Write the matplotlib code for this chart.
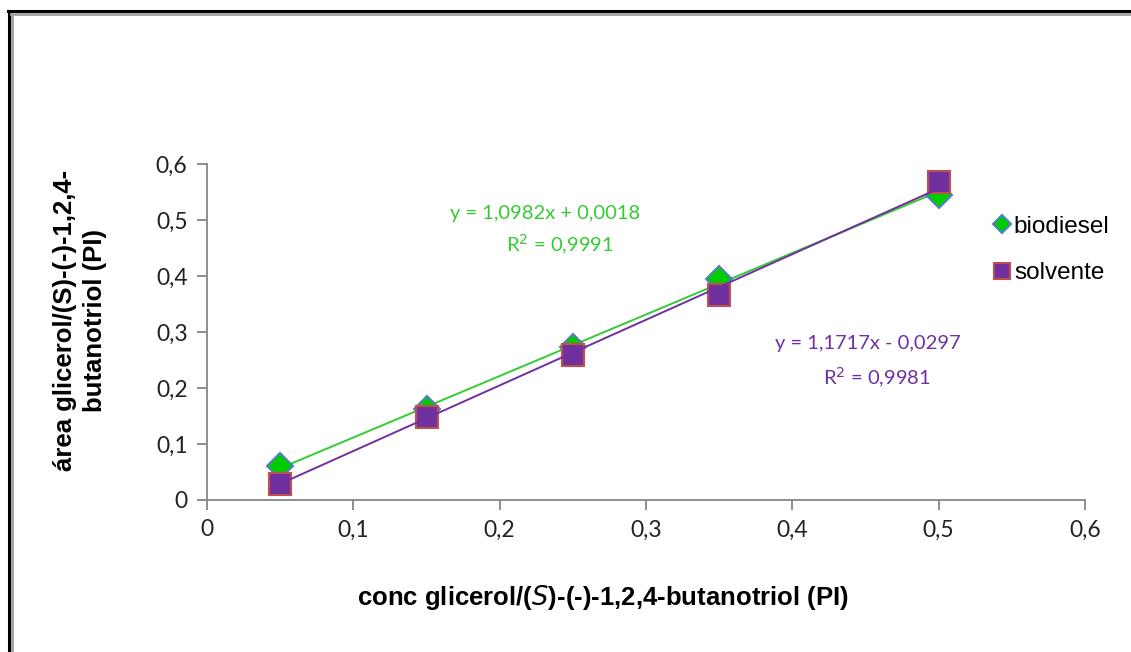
import numpy as np
import matplotlib
matplotlib.use("Agg")
import matplotlib.pyplot as plt
from matplotlib.lines import Line2D
from matplotlib.ticker import FuncFormatter

# data
conc = [0.05, 0.15, 0.25, 0.35, 0.50]
area_biodiesel = [0.060, 0.162, 0.273, 0.395, 0.545]
area_solvente = [0.029, 0.148, 0.259, 0.366, 0.567]

# trendline coefficients as printed on the chart
fit_biodiesel = (1.0982, 0.0018, 0.9991)
fit_solvente = (1.1717, -0.0297, 0.9981)

W, H = 1131, 652
fig = plt.figure(figsize=(W / 100, H / 100), dpi=100)
ax = fig.add_axes([207 / W, 1 - 500 / H, (1085 - 207) / W, (500 - 164) / H])

green = "#33cc33"
purple = "#7030a0"

xs = np.array([min(conc), max(conc)])
ax.plot(xs, fit_biodiesel[0] * xs + fit_biodiesel[1], color=green, lw=1.4, zorder=2)

ax.plot(conc, area_biodiesel, ls="none", marker="D", ms=13, mfc="#00cc00",
        mec="#4f81bd", mew=1.5, zorder=3, label="biodiesel")
ax.plot(conc, area_solvente, ls="none", marker="s", ms=16, mfc=purple,
        mec="#c0504d", mew=1.5, zorder=4, label="solvente")
# trendline over the markers, like excel draws it
ax.plot(xs, fit_solvente[0] * xs + fit_solvente[1], color=purple, lw=1.4, zorder=5)

ax.set_xlim(0, 0.6)
ax.set_ylim(0, 0.6)
ticks = np.arange(0, 0.61, 0.1)
ax.set_xticks(ticks)
ax.set_yticks(ticks)
fmt = FuncFormatter(lambda v, p: "0" if abs(v) < 1e-9 else f"{v:.1f}".replace(".", ","))
ax.xaxis.set_major_formatter(fmt)
ax.yaxis.set_major_formatter(fmt)
for s in ["top", "right"]:
    ax.spines[s].set_visible(False)
for s in ["left", "bottom"]:
    ax.spines[s].set_color("#868686")
    ax.spines[s].set_linewidth(1.3)
ax.tick_params(direction="out", length=7, width=1.3, color="#868686",
               labelsize=16.5, pad=7)
for lab in ax.get_xticklabels() + ax.get_yticklabels():
    lab.set_family("Lato")
    lab.set_color("#222222")

fig.text(603 / W, 1 - 597 / H, "conc glicerol/($\\mathit{S}$)-(-)-1,2,4-butanotriol (PI)",
         fontsize=18.5, fontweight="bold", family="Liberation Sans",
         ha="center", va="center")
fig.text(80 / W, 1 - 320 / H, "área glicerol/(S)-(-)-1,2,4-\nbutanotriol (PI)",
         fontsize=18.5, fontweight="bold", family="Liberation Sans", rotation=90,
         ha="center", va="center", multialignment="center", linespacing=1.3)

ax.text(545 / W, 1 - 213 / H, "y = 1,0982x + 0,0018", transform=fig.transFigure,
        color=green, fontsize=14.5, family="Lato", ha="center", va="center")
ax.text(560 / W, 1 - 245 / H, "R$^2$ = 0,9991", transform=fig.transFigure,
        color=green, fontsize=14.5, family="Lato", ha="center", va="center")
ax.text(868 / W, 1 - 343 / H, "y = 1,1717x - 0,0297", transform=fig.transFigure,
        color=purple, fontsize=14.5, family="Lato", ha="center", va="center")
ax.text(877 / W, 1 - 378 / H, "R$^2$ = 0,9981", transform=fig.transFigure,
        color=purple, fontsize=14.5, family="Lato", ha="center", va="center")

leg = fig.legend(loc="upper left", bbox_to_anchor=(986 / W, 1 - 206 / H),
                 frameon=False, prop={"family": "Liberation Sans", "size": 17.5},
                 handlelength=0.5, handletextpad=0.25, labelspacing=1.0,
                 markerscale=0.7, borderaxespad=0)

# chart-area border (black with grey inner edge)
fig.add_artist(Line2D([8.5 / W, 8.5 / W], [0, 1 - 11 / H], color="black", lw=2.2,
                      transform=fig.transFigure))
fig.add_artist(Line2D([8 / W, 1], [1 - 11 / H, 1 - 11 / H], color="black", lw=2.2,
                      transform=fig.transFigure))
fig.add_artist(Line2D([11.5 / W, 11.5 / W], [0, 1 - 13.5 / H], color="#a0a0a0", lw=2,
                      transform=fig.transFigure))
fig.add_artist(Line2D([11 / W, 1], [1 - 13.5 / H, 1 - 13.5 / H], color="#a0a0a0", lw=2,
                      transform=fig.transFigure))

fig.savefig("out.png", dpi=100, facecolor="white")
